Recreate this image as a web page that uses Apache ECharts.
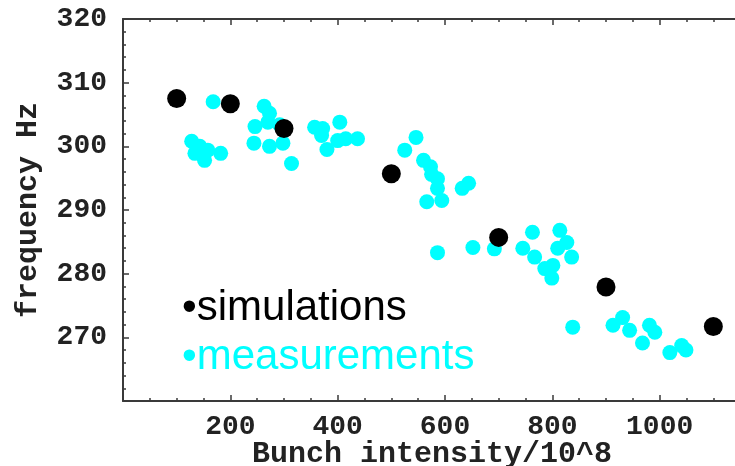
<!DOCTYPE html>
<html>
<head>
<meta charset="utf-8">
<script src="https://cdn.jsdelivr.net/npm/echarts@6/dist/echarts.min.js"></script>
<style>html,body{margin:0;padding:0;background:#fff;}#chart{width:735px;height:466px;}</style>
</head>
<body>
<div id="chart"></div>
<script>
// Simulations (black)
const simIntensity = [100, 200, 300, 500, 700, 900, 1100];
const simFrequency = [307.5, 306.7, 302.8, 295.7, 285.7, 277.9, 271.7];

// Measurements (cyan)
const measIntensity = [
  168, 128, 143, 134, 152, 158, 182,
  263, 273, 246, 270, 292, 244, 273, 298, 314,
  357, 372, 404, 370, 400, 415, 380, 437,
  546, 525, 560, 573, 575, 586, 586, 566, 594, 632, 644, 586, 652,
  692, 763, 745, 767, 814, 827, 836, 810, 786, 799, 801, 838,
  913, 931, 944, 981, 991, 968, 1019, 1041, 1049
];
const measFrequency = [
  307.0, 300.8, 300.0, 298.9, 297.8, 299.4, 298.9,
  306.3, 305.2, 303.1, 303.8, 303.4, 300.5, 300.0, 300.5, 297.3,
  303.0, 302.8, 303.8, 301.7, 300.9, 301.2, 299.5, 301.2,
  301.4, 299.4, 297.8, 296.8, 295.6, 294.9, 293.4, 291.3, 291.5, 293.4, 294.2, 283.3, 284.1,
  283.9, 286.5, 284.0, 282.6, 286.8, 284.9, 282.6, 284.0, 280.8, 279.3, 281.3, 271.6,
  271.9, 273.1, 271.1, 271.9, 270.8, 269.1, 267.6, 268.7, 268.0
];

const xTitle = 'Bunch intensity/10^8';
const yTitle = 'frequency Hz';
const legendLabels = ['•simulations', '•measurements'];

const simData = simIntensity.map((x, i) => [x, simFrequency[i]]);
const measData = measIntensity.map((x, i) => [x, measFrequency[i]]);

const axisColor = '#3a3a3a';
const monoFont = 'Liberation Mono';
const plain = v => String(v);

const chart = echarts.init(document.getElementById('chart'), null, {renderer: 'canvas'});
chart.setOption({
  animation: false,
  backgroundColor: '#fff',
  grid: {left: 123, right: -32, top: 19, bottom: 65, containLabel: false, outerBoundsMode: 'none'},
  xAxis: [{
    type: 'value', min: 0, max: 1200, interval: 200, position: 'bottom',
    name: xTitle, nameLocation: 'middle', nameGap: 38, nameMoveOverlap: false,
    nameTextStyle: {fontFamily: monoFont, fontSize: 30, fontWeight: 'bold', color: '#222', padding: [0, 26, 0, 0]},
    axisLine: {show: true, onZero: false, lineStyle: {color: axisColor, width: 2}},
    axisTick: {show: true, inside: true, length: 6, lineStyle: {color: axisColor, width: 1.5}},
    minorTick: {show: true, splitNumber: 4, length: 3, lineStyle: {color: axisColor, width: 1.5}},
    splitLine: {show: false},
    axisLabel: {showMinLabel: false, showMaxLabel: false, margin: 12, formatter: plain, fontFamily: monoFont, fontSize: 28, fontWeight: 'bold', color: '#222'}
  }, {
    type: 'value', min: 0, max: 1200, interval: 200, position: 'top',
    axisLine: {show: true, onZero: false, lineStyle: {color: axisColor, width: 2}},
    axisTick: {show: true, inside: true, length: 6, lineStyle: {color: axisColor, width: 1.5}},
    minorTick: {show: true, splitNumber: 4, length: 3, lineStyle: {color: axisColor, width: 1.5}},
    splitLine: {show: false},
    axisLabel: {show: false}
  }],
  yAxis: [{
    type: 'value', min: 260, max: 320, interval: 10, position: 'left',
    name: yTitle, nameLocation: 'middle', nameGap: 80, nameRotate: 90, nameMoveOverlap: false,
    nameTextStyle: {fontFamily: monoFont, fontSize: 30, fontWeight: 'bold', color: '#222'},
    axisLine: {show: true, onZero: false, lineStyle: {color: axisColor, width: 2}},
    axisTick: {show: true, inside: true, length: 6, lineStyle: {color: axisColor, width: 1.5}},
    minorTick: {show: true, splitNumber: 5, length: 3, lineStyle: {color: axisColor, width: 1.5}},
    splitLine: {show: false},
    axisLabel: {showMinLabel: false, margin: 16, formatter: plain, fontFamily: monoFont, fontSize: 28, fontWeight: 'bold', color: '#222'}
  }],
  series: [{
    name: 'measurements', type: 'scatter', data: measData,
    symbol: 'circle', symbolSize: 15,
    itemStyle: {color: '#00ffff', opacity: 1}
  }, {
    name: 'simulations', type: 'scatter', data: simData,
    symbol: 'circle', symbolSize: 19,
    itemStyle: {color: '#000000', opacity: 1}
  }],
  graphic: [{
    type: 'text', left: 182, top: 287,
    style: {text: legendLabels[0], fill: '#000', font: '42px "Liberation Sans"'}
  }, {
    type: 'text', left: 182, top: 336,
    style: {text: legendLabels[1], fill: '#00ffff', font: '42px "Liberation Sans"'}
  }]
});
</script>
</body>
</html>
